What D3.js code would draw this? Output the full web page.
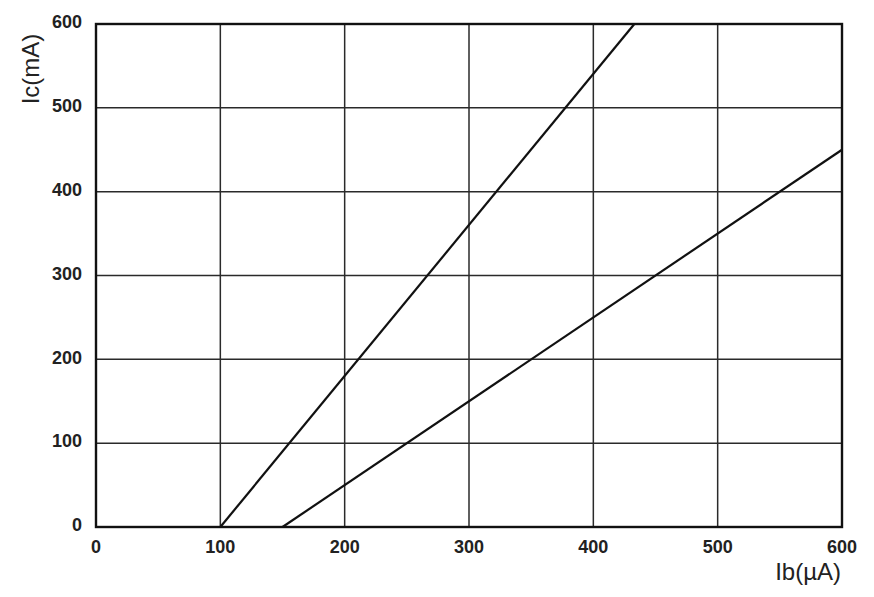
<!DOCTYPE html>
<html>
<head>
<meta charset="utf-8">
<script src="https://cdn.jsdelivr.net/npm/d3@7"></script>
<style>
    body { margin: 0; background: #fff; }
    svg { display: block; }
</style>
</head>
<body>
<svg id="chart" width="874" height="597"></svg>
<script>
// Ib (µA) ticks and Ic (mA) ticks
const xTicks = [0, 100, 200, 300, 400, 500, 600];
const yTicks = [0, 100, 200, 300, 400, 500, 600];

// two transfer lines
const lineA = [{ ib: 100, ic: 0 }, { ib: 433, ic: 600 }];
const lineB = [{ ib: 150, ic: 0 }, { ib: 600, ic: 450 }];

const xLabel = 'Ib(µA)';
const yLabel = 'Ic(mA)';

const margin = { top: 24, right: 32, bottom: 70, left: 96 };
const width = 874;
const height = 597;

const svg = d3.select('#chart');

const x = d3.scaleLinear()
    .domain([0, 600])
    .range([margin.left, width - margin.right]);
const y = d3.scaleLinear()
    .domain([0, 600])
    .range([height - margin.bottom, margin.top]);

// grid
const grid = svg.append('g')
    .attr('stroke', '#2a2a2a')
    .attr('stroke-width', 1.5);
grid.selectAll('line.v')
    .data(xTicks.slice(1, -1))
    .join('line')
    .classed('v', true)
    .attr('x1', d => x(d))
    .attr('x2', d => x(d))
    .attr('y1', y(0))
    .attr('y2', y(600));
grid.selectAll('line.h')
    .data(yTicks.slice(1, -1))
    .join('line')
    .classed('h', true)
    .attr('x1', x(0))
    .attr('x2', x(600))
    .attr('y1', d => y(d))
    .attr('y2', d => y(d));

// frame
svg.append('rect')
    .attr('x', x(0))
    .attr('y', y(600))
    .attr('width', x(600) - x(0))
    .attr('height', y(0) - y(600))
    .attr('fill', 'none')
    .attr('stroke', '#111')
    .attr('stroke-width', 2.4);

// lines
const line = d3.line()
    .x(d => x(d.ib))
    .y(d => y(d.ic));
svg.selectAll('path.series')
    .data([lineA, lineB])
    .join('path')
    .classed('series', true)
    .attr('d', line)
    .attr('fill', 'none')
    .attr('stroke', '#111')
    .attr('stroke-width', 2.2);

// tick labels
const tickFont = 'Arial, "Liberation Sans", sans-serif';
svg.append('g')
    .selectAll('text')
    .data(xTicks)
    .join('text')
    .attr('x', d => x(d))
    .attr('y', y(0) + 20)
    .attr('dy', '0.35em')
    .attr('text-anchor', 'middle')
    .attr('font-family', tickFont)
    .attr('font-weight', 'bold')
    .attr('font-size', 18)
    .attr('fill', '#222')
    .text(d => d);
svg.append('g')
    .selectAll('text')
    .data(yTicks)
    .join('text')
    .attr('x', x(0) - 14)
    .attr('y', d => y(d) - 2)
    .attr('dy', '0.35em')
    .attr('text-anchor', 'end')
    .attr('font-family', tickFont)
    .attr('font-weight', 'bold')
    .attr('font-size', 18)
    .attr('fill', '#222')
    .text(d => d);

// axis titles
svg.append('text')
    .attr('x', x(600) - 1)
    .attr('y', 580)
    .attr('text-anchor', 'end')
    .attr('font-family', tickFont)
    .attr('font-size', 24)
    .attr('fill', '#222')
    .text(xLabel);
svg.append('text')
    .attr('transform', `translate(39, 69) rotate(-90)`)
    .attr('text-anchor', 'middle')
    .attr('font-family', tickFont)
    .attr('font-size', 24)
    .attr('fill', '#222')
    .text(yLabel);
</script>
</body>
</html>
